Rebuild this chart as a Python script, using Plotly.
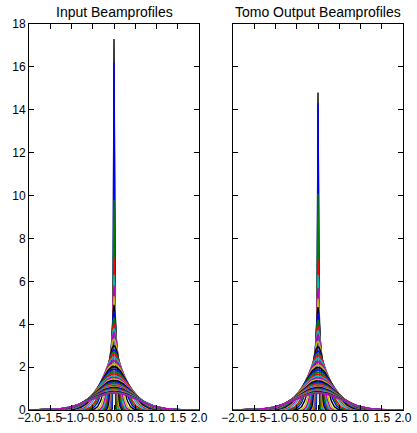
import numpy as np
import plotly.graph_objects as go

# sample positions along the profile axis
x_grid = np.linspace(-2.0, 2.0, 201)

# Input beam profiles: peak heights and gaussian widths
input_peaks = [17.3, 16.2, 9.8, 7.1, 6.3, 5.8, 5.3, 4.9, 4.6, 4.3, 4.0, 3.8, 3.6, 3.3, 3.0,
               2.8, 2.7, 2.6, 2.45, 2.3, 2.15, 2.02, 1.9, 1.79, 1.69, 1.6, 1.52, 1.45, 1.38,
               1.32, 1.26, 1.21, 1.17, 1.13, 1.09, 1.06, 1.03, 1.0, 0.97, 0.94, 0.91, 0.89,
               0.87, 0.85, 0.83, 0.81, 0.80, 0.79]
input_widths = [0.012, 0.013, 0.02, 0.03, 0.035, 0.04, 0.045, 0.055, 0.065, 0.075, 0.085,
                0.095, 0.11, 0.13, 0.16, 0.19, 0.21, 0.23, 0.26, 0.29, 0.31, 0.33, 0.35,
                0.37, 0.385, 0.40, 0.415, 0.425, 0.435, 0.445, 0.455, 0.465, 0.47, 0.48,
                0.485, 0.49, 0.5, 0.505, 0.51, 0.515, 0.52, 0.525, 0.53, 0.535, 0.54, 0.545,
                0.55, 0.55]

# Tomo output beam profiles
output_peaks = [14.8, 14.3, 10.1, 7.0, 6.3, 5.7, 5.2, 4.8, 4.5, 4.2, 3.9, 3.7, 3.5, 3.2,
                2.95, 2.75, 2.65, 2.55, 2.4, 2.25, 2.1, 1.98, 1.87, 1.76, 1.66, 1.58, 1.5,
                1.43, 1.36, 1.3, 1.25, 1.2, 1.16, 1.12, 1.08, 1.05, 1.02, 0.99, 0.96, 0.93,
                0.9, 0.88, 0.86, 0.84, 0.82, 0.8, 0.79, 0.78]
output_widths = [0.012, 0.013, 0.02, 0.03, 0.035, 0.04, 0.045, 0.055, 0.065, 0.075, 0.085,
                 0.095, 0.11, 0.13, 0.16, 0.19, 0.21, 0.23, 0.26, 0.29, 0.31, 0.33, 0.35,
                 0.37, 0.385, 0.40, 0.415, 0.425, 0.435, 0.445, 0.455, 0.465, 0.47, 0.48,
                 0.485, 0.49, 0.5, 0.505, 0.51, 0.515, 0.52, 0.525, 0.53, 0.535, 0.54, 0.545,
                 0.55, 0.56]

color_cycle = ["#000000", "#0000ff", "#008000", "#ff0000", "#00bfbf", "#bf00bf", "#bfbf00"]

x_ticks = [-2.0, -1.5, -1.0, -0.5, 0.0, 0.5, 1.0, 1.5, 2.0]
y_ticks = [0, 2, 4, 6, 8, 10, 12, 14, 16, 18]
titles = ["Input Beamprofiles", "Tomo Output Beamprofiles"]

FONT = "Liberation Sans, Arial, sans-serif"

fig = go.Figure()

for xa, ya, peaks, widths in [("x", "y", input_peaks, input_widths),
                              ("x2", "y2", output_peaks, output_widths)]:
    for i in range(len(peaks)):
        yv = peaks[i] * np.exp(-x_grid ** 2 / (2 * widths[i] ** 2))
        fig.add_trace(go.Scatter(x=x_grid, y=yv, mode="lines", xaxis=xa, yaxis=ya,
                                 line=dict(color=color_cycle[i % 7], width=1.4),
                                 showlegend=False, hoverinfo="skip"))

W, H = 417, 433
ml, mr, mt, mb = 29, 14, 24, 23
pw = W - ml - mr
d1 = [0, (199 - ml) / pw]
d2 = [(233 - ml) / pw, 1]

axis_common = dict(showline=True, linecolor="black", linewidth=1, mirror="allticks",
                   ticks="inside", ticklen=5, tickwidth=1, tickcolor="black",
                   showgrid=False, zeroline=False, automargin=False,
                   tickfont=dict(family=FONT, size=12, color="black"))

fig.update_layout(
    width=W, height=H, margin=dict(l=ml, r=mr, t=mt, b=mb),
    paper_bgcolor="white", plot_bgcolor="white",
    xaxis=dict(domain=d1, range=[-2, 2], tickvals=x_ticks, tickformat=".1f", tickangle=0,
               anchor="y", ticklabelstandoff=-3, **axis_common),
    xaxis2=dict(domain=d2, range=[-2, 2], tickvals=x_ticks, tickformat=".1f", tickangle=0,
                anchor="y2", ticklabelstandoff=-3, **axis_common),
    yaxis=dict(range=[0, 18], tickvals=y_ticks, anchor="x", **axis_common),
    yaxis2=dict(range=[0, 18], tickvals=y_ticks, anchor="x2", showticklabels=False,
                **axis_common),
)

for dom, t in zip([d1, d2], titles):
    fig.add_annotation(text=t, xref="paper", yref="paper", x=(dom[0] + dom[1]) / 2,
                       y=1.0, yshift=2, xanchor="center", yanchor="bottom", showarrow=False,
                       font=dict(family=FONT, size=14, color="black"))

fig.write_html("out.html")
